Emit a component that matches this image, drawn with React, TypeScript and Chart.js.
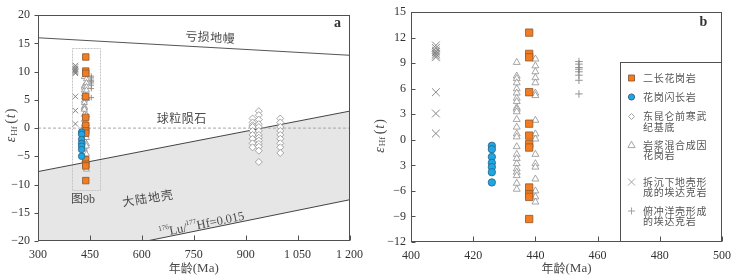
import React, { useEffect, useRef } from "react";
import { Chart, registerables } from "chart.js";

Chart.register(...registerables);

// ---------------- DATA ----------------
// 二长花岗岩 (monzogranite)
const monzograniteAge = 438;
const monzograniteEHf = [12.6, 10.1, 9.7, 5.6, 1.9, 0.5, -0.5, -0.9, -5.6, -6.4, -6.7, -9.3];
// 花岗闪长岩 (granodiorite)
const granodioriteAge = 426;
const granodioriteEHf = [-0.7, -1.1, -2.0, -2.7, -3.2, -3.8, -5.0];
// 东昆仑前寒武纪基底 (basement) – three age columns
const basementAges = [920, 938, 1000];
const basementEHf920 = [1.7, 1.0, 0.5, 0.2, -0.5, -1.2, -1.9, -2.7, -3.4];
const basementEHf938 = [3.0, 2.3, 1.5, 0.7, 0.2, -0.5, -1.2, -1.7, -2.2, -2.8, -3.3, -4.0, -6.0];
const basementEHf1000 = [1.7, 1.0, 0.2, -0.5, -1.2, -1.9, -2.7, -3.4, -4.4];
// 岩浆混合成因花岗岩 (magma-mixing granite) – two age columns
const mixingAges = [434, 440];
const mixingEHf434 = [9.1, 7.5, 7.2, 6.7, 6.0, 5.5, 4.9, 4.5, 3.8, 3.6, 3.3, 2.4, 1.5, 0.7, 0.35, -0.8, -1.7, -2.2, -2.8, -3.4, -3.8, -4.2, -5.1, -5.8];
const mixingEHf440 = [9.5, 8.7, 8.0, 7.3, 6.7, 5.5, 5.2, 2.3, 0.7, 0.1, -1.7, -2.8, -3.2, -4.6, -6.0, -6.7, -7.3];
// 拆沉下地壳形成的埃达克岩 (delaminated lower crust adakite)
const delaminatedAge = 408;
const delaminatedEHf = [11.1, 10.8, 10.5, 10.3, 10.1, 9.9, 9.7, 5.6, 3.1, 0.75];
// 俯冲洋壳形成的埃达克岩 (slab-melt adakite)
const slabAge = 454;
const slabEHf = [9.2, 8.9, 8.5, 8.3, 8.0, 7.6, 7.0, 5.4];

// Reference evolution lines (panel a)
const dmLineAges = [300, 1200];
const dmLineEHf = [16.0, 12.9];
const chondriteAges = [300, 1200];
const chondriteEHf = [0, 0];
const crustUpperAges = [300, 1200];
const crustUpperEHf = [-7.7, 3.0];
const crustLowerAges = [614, 1200];
const crustLowerEHf = [-20, -12.7];
// Box marking the range of panel b
const box9bAges = [398, 479];
const box9bEHf = [-11.0, 14.2];

// Ticks
const ageTicksA = [300, 450, 600, 750, 900, 1050, 1200];
const ageTickLabelsA = ["300", "450", "600", "750", "900", "1 050", "1 200"];
const eHfTicksA = [-20, -15, -10, -5, 0, 5, 10, 15, 20];
const eHfTickLabelsA = ["\u221220", "\u221215", "\u221210", "\u22125", "0", "5", "10", "15", "20"];
const ageTicksB = [400, 420, 440, 460, 480, 500];
const ageTickLabelsB = ["400", "420", "440", "460", "480", "500"];
const eHfTicksB = [-12, -9, -6, -3, 0, 3, 6, 9, 12, 15];
const eHfTickLabelsB = ["\u221212", "\u22129", "\u22126", "3", "0", "3", "6", "9", "12", "15"];

const legendLabels = [
  ["二长花岗岩"],
  ["花岗闪长岩"],
  ["东昆仑前寒武", "纪基底"],
  ["岩浆混合成因", "花岗岩"],
  ["拆沉下地壳形", "成的埃达克岩"],
  ["俯冲洋壳形成", "的埃达克岩"],
];

// ---------------- STYLE ----------------
const SERIF = '"Liberation Serif", "Noto Sans CJK SC", serif';
const CJK = '"Noto Sans CJK SC", "Liberation Serif", sans-serif';
const AXIS = "#505050";
const TEXT = "#4a4a4a";
const ORANGE = "#f47b20";
const ORANGE_B = "#8c5a2e";
const BLUE = "#1ea8e3";
const BLUE_B = "#2b5f84";
const GRAY_M = "#8f8f8f";

const col = (age: number, vals: number[]) => vals.map((v) => ({ x: age, y: v }));
const line = (xs: number[], ys: number[]) => xs.map((x, i) => ({ x, y: ys[i] }));

function drawSpaced(ctx: CanvasRenderingContext2D, text: string, cx: number, cy: number, step: number, font: string, angleDeg = 0, color = TEXT) {
  const chars = Array.from(text);
  ctx.save();
  ctx.translate(cx, cy);
  ctx.rotate((angleDeg * Math.PI) / 180);
  ctx.font = font;
  ctx.fillStyle = color;
  ctx.textAlign = "center";
  ctx.textBaseline = "middle";
  chars.forEach((c, i) => ctx.fillText(c, (i - (chars.length - 1) / 2) * step, 0));
  ctx.restore();
}

function drawYTitle(ctx: CanvasRenderingContext2D, cx: number, cy: number) {
  const parts = [
    { t: "\u03b5", f: `italic 14px ${SERIF}`, dy: 0, gap: 1 },
    { t: "Hf", f: `9px ${SERIF}`, dy: 3, gap: 2.5 },
    { t: "(", f: `14px ${SERIF}`, dy: 0, gap: 1 },
    { t: "t", f: `italic 14px ${SERIF}`, dy: 0, gap: 1 },
    { t: ")", f: `14px ${SERIF}`, dy: 0, gap: 0 },
  ];
  ctx.save();
  ctx.translate(cx, cy);
  ctx.rotate(-Math.PI / 2);
  ctx.fillStyle = TEXT;
  ctx.textBaseline = "middle";
  ctx.textAlign = "left";
  let total = 0;
  parts.forEach((p) => {
    ctx.font = p.f;
    total += ctx.measureText(p.t).width + p.gap;
  });
  let xx = -total / 2;
  parts.forEach((p) => {
    ctx.font = p.f;
    ctx.fillText(p.t, xx, p.dy);
    xx += ctx.measureText(p.t).width + p.gap;
  });
  ctx.restore();
}

function drawXTitle(ctx: CanvasRenderingContext2D, cx: number, cy: number) {
  ctx.save();
  ctx.fillStyle = TEXT;
  ctx.textBaseline = "middle";
  ctx.textAlign = "left";
  const a = "年龄";
  const b = "(Ma)";
  ctx.font = `12px ${CJK}`;
  const wa = ctx.measureText(a).width;
  ctx.font = `13px ${SERIF}`;
  const wb = ctx.measureText(b).width;
  const x0 = cx - (wa + wb) / 2;
  ctx.font = `12px ${CJK}`;
  ctx.fillText(a, x0, cy);
  ctx.font = `13px ${SERIF}`;
  ctx.fillText(b, x0 + wa, cy + 0.5);
  ctx.restore();
}

function drawFrameAndTicks(chart: any, yOutward: boolean) {
  const { ctx, chartArea: ca, scales } = chart;
  const x = scales.x;
  const y = scales.y;
  ctx.save();
  ctx.strokeStyle = AXIS;
  ctx.lineWidth = 1;
  const L = Math.round(ca.left) + 0.5;
  const R = Math.round(ca.right) - 0.5;
  const T = Math.round(ca.top) + 0.5;
  const B = Math.round(ca.bottom) - 0.5;
  ctx.strokeRect(L, T, R - L, B - T);
  ctx.beginPath();
  x.ticks.forEach((t: any) => {
    const px = Math.round(x.getPixelForValue(t.value)) + 0.5;
    ctx.moveTo(px, B);
    ctx.lineTo(px, B - 5);
  });
  y.ticks.forEach((t: any) => {
    const py = Math.round(y.getPixelForValue(t.value)) + 0.5;
    ctx.moveTo(L, py);
    ctx.lineTo(yOutward ? L - 4 : L + 4, py);
  });
  ctx.stroke();
  ctx.restore();
}

function panelLetter(ctx: CanvasRenderingContext2D, t: string, x: number, y: number) {
  ctx.save();
  ctx.font = `bold 14px ${SERIF}`;
  ctx.fillStyle = "#333";
  ctx.textAlign = "center";
  ctx.textBaseline = "middle";
  ctx.fillText(t, x, y);
  ctx.restore();
}

function markerDatasets(big: boolean) {
  const s = big ? 1 : 0.88;
  return [
    {
      label: "花岗闪长岩",
      data: col(granodioriteAge, granodioriteEHf),
      pointStyle: "circle",
      pointRadius: 3.7 * s,
      backgroundColor: BLUE,
      borderColor: BLUE_B,
      borderWidth: 0.8,
    },
    {
      label: "二长花岗岩",
      data: col(monzograniteAge, monzograniteEHf),
      pointStyle: "rect",
      pointRadius: 5.2 * s,
      backgroundColor: ORANGE,
      borderColor: ORANGE_B,
      borderWidth: 0.8,
    },
    {
      label: "岩浆混合成因花岗岩",
      data: [...col(mixingAges[0], mixingEHf434), ...col(mixingAges[1], mixingEHf440)],
      pointStyle: "triangle",
      pointRadius: 4 * s,
      backgroundColor: "#ffffff",
      borderColor: GRAY_M,
      borderWidth: 0.8,
    },
    {
      label: "东昆仑前寒武纪基底",
      data: [
        ...col(basementAges[0], basementEHf920),
        ...col(basementAges[1], basementEHf938),
        ...col(basementAges[2], basementEHf1000),
      ],
      pointStyle: "rectRot",
      pointRadius: 3.5,
      backgroundColor: "#ffffff",
      borderColor: GRAY_M,
      borderWidth: 0.8,
    },
    {
      label: "拆沉下地壳形成的埃达克岩",
      data: col(delaminatedAge, delaminatedEHf),
      pointStyle: "crossRot",
      pointRadius: big ? 5.5 : 3.8,
      backgroundColor: "transparent",
      borderColor: "#7a7a7a",
      borderWidth: 0.9,
    },
    {
      label: "俯冲洋壳形成的埃达克岩",
      data: col(slabAge, slabEHf),
      pointStyle: "cross",
      pointRadius: big ? 3.8 : 2.8,
      backgroundColor: "transparent",
      borderColor: "#888888",
      borderWidth: 0.9,
    },
  ];
}

function refLine(xs: number[], ys: number[], color: string, dash: number[] = []) {
  return {
    type: "line",
    data: line(xs, ys),
    borderColor: color,
    borderWidth: 1,
    borderDash: dash,
    pointRadius: 0,
    fill: false,
    showLine: true,
  };
}

function baseOptions(xmin: number, xmax: number, xt: number[], xl: string[], ymin: number, ymax: number, yt: number[], yl: string[], yW: number, xH: number, padR: number, padT: number, yPad: number) {
  return {
    responsive: false,
    animation: false,
    events: [],
    layout: { padding: { left: 0, right: padR, top: padT, bottom: 0 }, autoPadding: false },
    plugins: { legend: { display: false }, tooltip: { enabled: false } },
    scales: {
      x: {
        type: "linear",
        min: xmin,
        max: xmax,
        afterBuildTicks: (sc: any) => {
          sc.ticks = xt.map((v) => ({ value: v }));
        },
        afterFit: (sc: any) => {
          sc.height = xH;
        },
        grid: { display: false, drawTicks: false },
        border: { display: false },
        ticks: {
          autoSkip: false,
          maxRotation: 0,
          padding: 7,
          color: "#333",
          font: { family: SERIF, size: 12 },
          callback: (v: number) => xl[xt.indexOf(v)] ?? "",
        },
      },
      y: {
        type: "linear",
        min: ymin,
        max: ymax,
        afterBuildTicks: (sc: any) => {
          sc.ticks = yt.map((v) => ({ value: v }));
        },
        afterFit: (sc: any) => {
          sc.width = yW;
        },
        grid: { display: false, drawTicks: false },
        border: { display: false },
        ticks: {
          autoSkip: false,
          padding: yPad,
          color: "#333",
          font: { family: SERIF, size: 12 },
          callback: (v: number) => yl[yt.indexOf(v)] ?? "",
        },
      },
    },
  };
}

const panelAPlugin = {
  id: "panelA",
  beforeDatasetsDraw(chart: any) {
    const { ctx, chartArea: ca, scales } = chart;
    const x = scales.x;
    const y = scales.y;
    const P = (a: number, b: number): [number, number] => [x.getPixelForValue(a), y.getPixelForValue(b)];
    ctx.save();
    ctx.beginPath();
    ctx.rect(ca.left, ca.top, ca.right - ca.left, ca.bottom - ca.top);
    ctx.clip();
    // continental crust field
    const pts = [
      P(crustUpperAges[0], crustUpperEHf[0]),
      P(crustUpperAges[1], crustUpperEHf[1]),
      P(crustLowerAges[1], crustLowerEHf[1]),
      P(crustLowerAges[0], crustLowerEHf[0]),
      P(x.min, y.min),
    ];
    ctx.beginPath();
    pts.forEach((p, i) => (i ? ctx.lineTo(p[0], p[1]) : ctx.moveTo(p[0], p[1])));
    ctx.closePath();
    ctx.fillStyle = "#e6e6e6";
    ctx.fill();
    // panel b box
    const b0 = P(box9bAges[0], box9bEHf[1]);
    const b1 = P(box9bAges[1], box9bEHf[0]);
    ctx.strokeStyle = "#c4c4c4";
    ctx.lineWidth = 1;
    ctx.setLineDash([2, 1]);
    ctx.strokeRect(Math.round(b0[0]) + 0.5, Math.round(b0[1]) + 0.5, Math.round(b1[0] - b0[0]), Math.round(b1[1] - b0[1]));
    ctx.setLineDash([]);
    ctx.restore();

    // labels
    const dmA = P(dmLineAges[0], dmLineEHf[0]);
    const dmB = P(dmLineAges[1], dmLineEHf[1]);
    const dmAng = (Math.atan2(dmB[1] - dmA[1], dmB[0] - dmA[0]) * 180) / Math.PI;
    drawSpaced(ctx, "亏损地幔", 210, 37, 12.5, `12px ${CJK}`, dmAng);
    drawSpaced(ctx, "球粒陨石", 181.5, 118.5, 12.5, `12px ${CJK}`, 0);
    drawSpaced(ctx, "大陆地壳", 147.5, 198, 13, `12px ${CJK}`, -9);
    ctx.save();
    ctx.font = `12px ${SERIF}`;
    ctx.fillStyle = TEXT;
    ctx.textAlign = "center";
    ctx.textBaseline = "middle";
    ctx.fillText("图9b", 83, 200);
    ctx.restore();

    // 176Lu/177Hf = 0.015 along the lower crust line
    const lA = P(crustLowerAges[0], crustLowerEHf[0]);
    const lB = P(crustLowerAges[1], crustLowerEHf[1]);
    const ang = Math.atan2(lB[1] - lA[1], lB[0] - lA[0]);
    const sx = 160;
    const sy = lA[1] + (sx - lA[0]) * Math.tan(ang) - 1.5;
    ctx.save();
    ctx.translate(sx, sy);
    ctx.rotate(ang);
    ctx.fillStyle = TEXT;
    ctx.textBaseline = "alphabetic";
    ctx.textAlign = "left";
    const segs = [
      { t: "176", f: `7px ${SERIF}`, dy: -6 },
      { t: "Lu/", f: `12.5px ${SERIF}`, dy: 0 },
      { t: "177", f: `7px ${SERIF}`, dy: -6 },
      { t: "Hf=0.015", f: `12.5px ${SERIF}`, dy: 0 },
    ];
    let xx = 0;
    segs.forEach((s) => {
      ctx.font = s.f;
      ctx.fillText(s.t, xx, s.dy);
      xx += ctx.measureText(s.t).width;
    });
    ctx.restore();
  },
  afterDraw(chart: any) {
    const { ctx, chartArea: ca } = chart;
    drawFrameAndTicks(chart, true);
    drawYTitle(ctx, 11.5, 125.5);
    drawXTitle(ctx, (ca.left + ca.right) / 2, 268);
    panelLetter(ctx, "a", 337.5, 23);
  },
};

function legendMarker(ctx: CanvasRenderingContext2D, i: number, x: number, y: number) {
  ctx.save();
  ctx.lineWidth = 0.9;
  ctx.beginPath();
  if (i === 0) {
    ctx.fillStyle = ORANGE;
    ctx.strokeStyle = ORANGE_B;
    ctx.rect(x - 3, y - 3, 6, 6);
    ctx.fill();
    ctx.stroke();
  } else if (i === 1) {
    ctx.fillStyle = BLUE;
    ctx.strokeStyle = BLUE_B;
    ctx.arc(x, y, 3.1, 0, Math.PI * 2);
    ctx.fill();
    ctx.stroke();
  } else if (i === 2) {
    ctx.strokeStyle = "#9a9a9a";
    ctx.moveTo(x, y - 3);
    ctx.lineTo(x + 3, y);
    ctx.lineTo(x, y + 3);
    ctx.lineTo(x - 3, y);
    ctx.closePath();
    ctx.stroke();
  } else if (i === 3) {
    ctx.strokeStyle = "#9a9a9a";
    ctx.moveTo(x, y - 3.8);
    ctx.lineTo(x + 3.6, y + 2.6);
    ctx.lineTo(x - 3.6, y + 2.6);
    ctx.closePath();
    ctx.stroke();
  } else if (i === 4) {
    ctx.strokeStyle = "#9a9a9a";
    ctx.moveTo(x - 3.5, y - 3.5);
    ctx.lineTo(x + 3.5, y + 3.5);
    ctx.moveTo(x + 3.5, y - 3.5);
    ctx.lineTo(x - 3.5, y + 3.5);
    ctx.stroke();
  } else {
    ctx.strokeStyle = "#9a9a9a";
    ctx.moveTo(x - 3.5, y);
    ctx.lineTo(x + 3.5, y);
    ctx.moveTo(x, y - 3.5);
    ctx.lineTo(x, y + 3.5);
    ctx.stroke();
  }
  ctx.restore();
}

const legendRowY = [78, 97, 116.5, 145, 182, 211];

const panelBPlugin = {
  id: "panelB",
  afterDatasetsDraw(chart: any) {
    const { ctx, chartArea: ca } = chart;
    // legend box
    const L = 250.5;
    const T = 62.5;
    const R = Math.round(ca.right) - 0.5;
    const B = Math.round(ca.bottom) - 0.5;
    ctx.save();
    ctx.fillStyle = "#ffffff";
    ctx.fillRect(L, T, R - L, B - T);
    ctx.strokeStyle = AXIS;
    ctx.lineWidth = 1;
    ctx.strokeRect(L, T, R - L, B - T);
    ctx.restore();
    legendLabels.forEach((lines, i) => {
      const y0 = legendRowY[i];
      legendMarker(ctx, i, 261.5, y0);
      lines.forEach((ln, j) => {
        const chars = Array.from(ln);
        ctx.save();
        ctx.font = `10px ${CJK}`;
        ctx.fillStyle = "#555";
        ctx.textAlign = "left";
        ctx.textBaseline = "middle";
        chars.forEach((c, k) => ctx.fillText(c, 273 + k * 10.7, y0 + j * 10.5));
        ctx.restore();
      });
    });
  },
  afterDraw(chart: any) {
    const { ctx, chartArea: ca } = chart;
    drawFrameAndTicks(chart, false);
    drawYTitle(ctx, 10, 136);
    drawXTitle(ctx, (ca.left + ca.right) / 2, 268);
    panelLetter(ctx, "b", 333.5, 22.5);
  },
};

export default function App() {
  const refA = useRef<HTMLCanvasElement>(null);
  const refB = useRef<HTMLCanvasElement>(null);

  useEffect(() => {
    document.body.style.margin = "0";
    const chartA = new Chart(refA.current as HTMLCanvasElement, {
      type: "scatter",
      data: {
        datasets: [
          ...markerDatasets(false),
          refLine(chondriteAges, chondriteEHf, "#a8a8a8", [3, 2]),
          refLine(dmLineAges, dmLineEHf, "#555555"),
          refLine(crustUpperAges, crustUpperEHf, "#444444"),
          refLine(crustLowerAges, crustLowerEHf, "#444444"),
        ] as any,
      },
      options: baseOptions(300, 1200, ageTicksA, ageTickLabelsA, -20, 20, eHfTicksA, eHfTickLabelsA, 38, 38, 15, 10, 8) as any,
      plugins: [panelAPlugin],
    });
    const chartB = new Chart(refB.current as HTMLCanvasElement, {
      type: "scatter",
      data: { datasets: markerDatasets(true) as any },
      options: baseOptions(400, 500, ageTicksB, ageTickLabelsB, -12, 15, eHfTicksB, eHfTickLabelsB, 41, 37, 11, 10, 5) as any,
      plugins: [panelBPlugin],
    });
    return () => {
      chartA.destroy();
      chartB.destroy();
    };
  }, []);

  return (
    <div style={{ position: "absolute", left: 0, top: 0, width: 738, height: 279, background: "#fff" }}>
      <canvas ref={refA} width={370} height={279} style={{ position: "absolute", left: 0, top: 0 }} />
      <canvas ref={refB} width={368} height={279} style={{ position: "absolute", left: 370, top: 0 }} />
    </div>
  );
}
